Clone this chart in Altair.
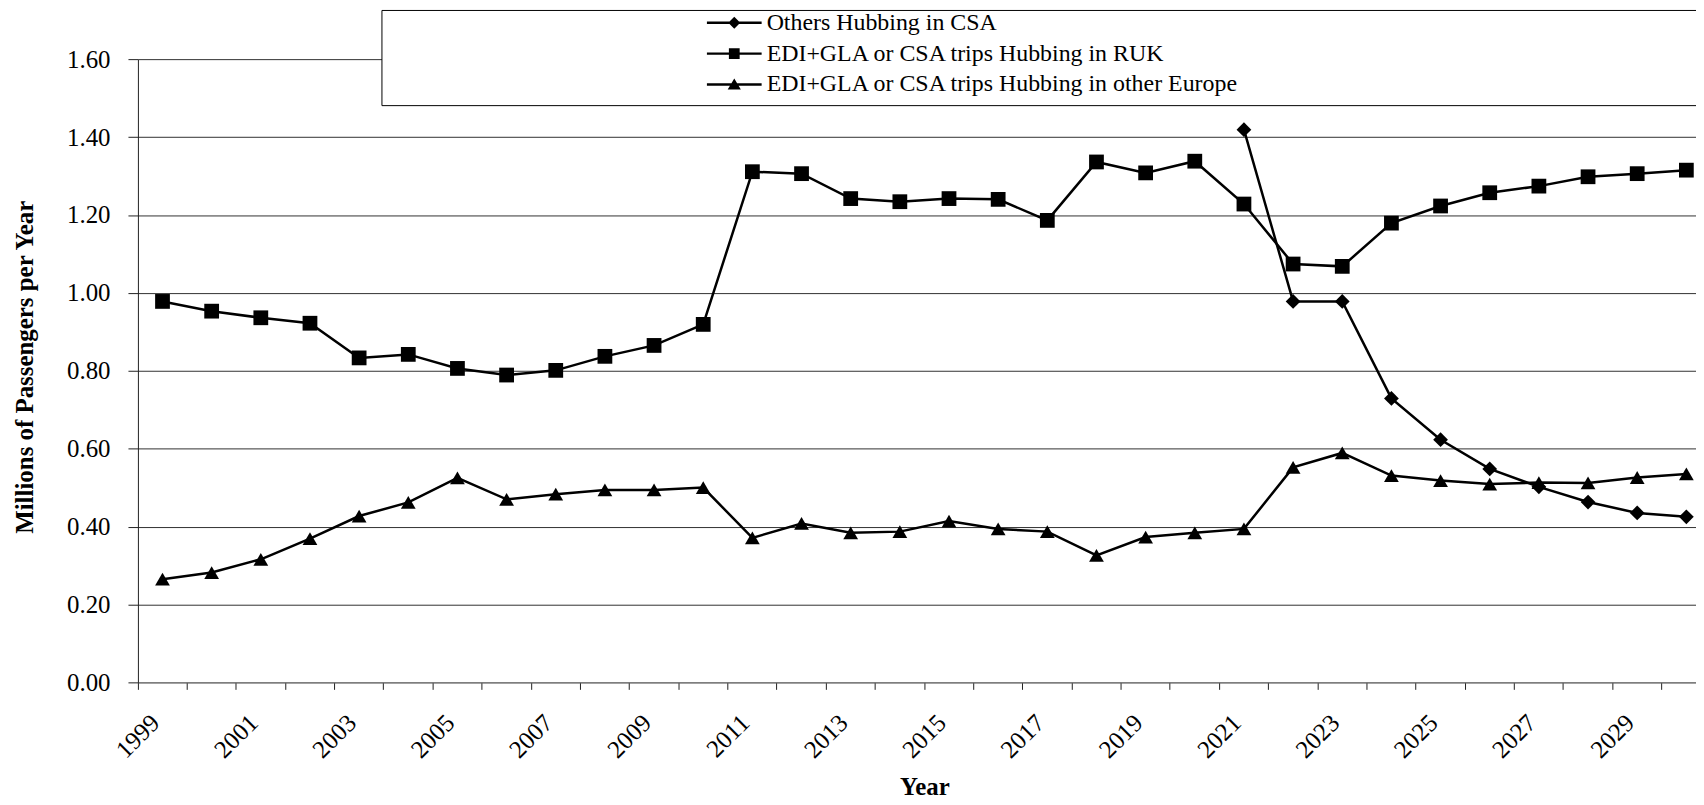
import altair as alt
import pandas as pd

years = [str(y) for y in range(1999, 2031)]

series_names = [
    "Others Hubbing in CSA",
    "EDI+GLA or CSA trips Hubbing in RUK",
    "EDI+GLA or CSA trips Hubbing in other Europe",
]

csa = [None] * 22 + [1.419, 0.978, 0.978, 0.729, 0.623, 0.548, 0.502, 0.463, 0.435, 0.425]

ruk = [0.978, 0.953, 0.936, 0.922, 0.833, 0.842, 0.806, 0.789, 0.801, 0.837, 0.865, 0.919,
       1.311, 1.306, 1.242, 1.234, 1.242, 1.240, 1.186, 1.336, 1.308, 1.338, 1.228, 1.074,
       1.068, 1.179, 1.223, 1.257, 1.274, 1.298, 1.306, 1.315]

europe = [0.265, 0.282, 0.316, 0.369, 0.427, 0.462, 0.525, 0.470, 0.483, 0.494, 0.494, 0.500,
          0.371, 0.408, 0.384, 0.387, 0.414, 0.394, 0.387, 0.326, 0.373, 0.384, 0.394, 0.552,
          0.589, 0.531, 0.518, 0.509, 0.513, 0.512, 0.526, 0.535]

y_ticks = [0.0, 0.2, 0.4, 0.6, 0.8, 1.0, 1.2, 1.4, 1.6]

rows = []
for name, vals in zip(series_names, [csa, ruk, europe]):
    for yr, v in zip(years, vals):
        if v is not None:
            rows.append({"year": yr, "value": v, "series": name})
df = pd.DataFrame(rows)

FONT = "Liberation Serif"

x_enc = alt.X(
    "year:O",
    scale=alt.Scale(type="band", domain=years, paddingInner=0, paddingOuter=0),
    bandPosition=0.5,
    axis=alt.Axis(
        bandPosition=0,
        grid=False,
        labelAngle=-45,
        labelAlign="right",
        labelBaseline="middle",
        labelOffset=-7,
        labelPadding=29,
        tickSize=7,
        tickColor="#202020",
        domainColor="#808080",
        labelExpr="toNumber(datum.value) % 2 == 1 ? datum.value : ''",
        labelFont=FONT,
        labelFontSize=25,
        labelColor="black",
        title="Year",
        titleFont=FONT,
        titleFontSize=25,
        titleFontWeight="bold",
        titleColor="black",
        titleY=113,
        titleBaseline="alphabetic",
    ),
)

y_enc = alt.Y(
    "value:Q",
    scale=alt.Scale(domain=[0, 1.6], nice=False, zero=True),
    axis=alt.Axis(
        values=y_ticks,
        format=".2f",
        grid=True,
        gridColor="#303030",
        gridWidth=1,
        tickSize=10,
        tickColor="#202020",
        domainColor="#202020",
        labelPadding=18,
        labelFont=FONT,
        labelFontSize=25,
        labelColor="black",
        title="Millions of Passengers per Year",
        titleFont=FONT,
        titleFontSize=25,
        titleFontWeight="bold",
        titleColor="black",
        titleX=-106,
        titleY=309,
        titleAlign="center",
        titleBaseline="alphabetic",
    ),
)

legend_box = alt.Chart(pd.DataFrame({"a": [0]})).mark_rect(
    fill="white", stroke="black", strokeWidth=1
).encode(
    x=alt.value(245.1), x2=alt.value(1700), y=alt.value(-48.9), y2=alt.value(46.7)
)

base = alt.Chart(df)

lines = base.mark_line(color="black", strokeWidth=2.5).encode(
    x=x_enc, y=y_enc, detail="series:N"
)

points = base.mark_point(filled=True, color="black", opacity=1, size=220).encode(
    x=x_enc,
    y=y_enc,
    shape=alt.Shape(
        "series:N",
        scale=alt.Scale(domain=series_names, range=["diamond", "square", "triangle-up"]),
        legend=None,
    ),
)

bar = "M-2.29,-0.1H2.29V0.1H-2.29Z "
legend_paths = [
    bar + "M0,-0.5L0.5,0L0,0.5L-0.5,0Z",
    bar + "M-0.45,-0.45H0.45V0.45H-0.45Z",
    bar + "M0,-0.5L0.55,0.42H-0.55Z",
]

legend_layer = base.transform_filter("false").mark_point(
    filled=True, color="black", opacity=1
).encode(
    x=x_enc,
    y=y_enc,
    shape=alt.Shape(
        "series:N",
        scale=alt.Scale(domain=series_names, range=legend_paths),
        legend=alt.Legend(
            title=None,
            orient="none",
            legendX=587,
            legendY=-48.5,
            direction="vertical",
            symbolSize=576,
            symbolFillColor="black",
            symbolStrokeColor="black",
            symbolStrokeWidth=0,
            symbolOpacity=1,
            labelFont=FONT,
            labelFontSize=24,
            labelColor="black",
            labelOffset=20.5,
            labelLimit=0,
            rowPadding=7,
            padding=0,
        ),
    ),
)

chart = alt.layer(legend_box, lines, points, legend_layer).resolve_scale(
    shape="independent"
).properties(
    width=1580,
    height=626,
    autosize=alt.AutoSizeParams(type="none"),
    padding={"left": 130.5, "top": 49.6, "right": -15, "bottom": 120},
    background="white",
).configure_view(stroke=None)

chart.save("out.html", embed_options={"renderer": "svg", "actions": False})
